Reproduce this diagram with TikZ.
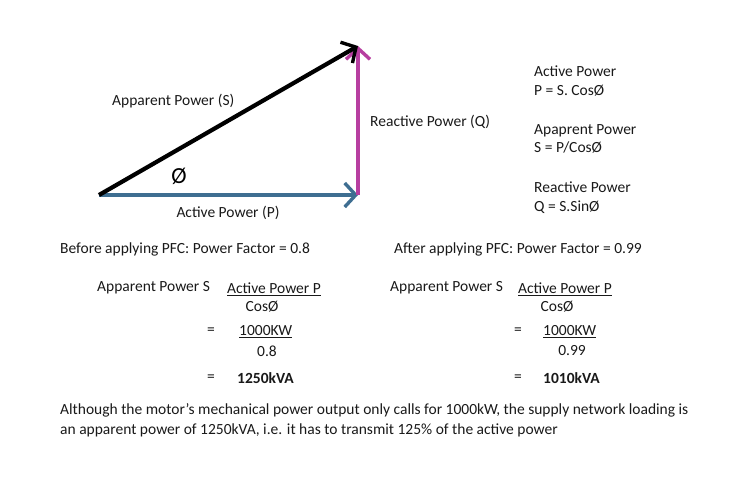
\documentclass[tikz,border=0pt]{standalone}
\usepackage{fontspec}
\setmainfont{Carlito}
\usetikzlibrary{arrows.meta, positioning}
\definecolor{activeblue}{RGB}{62,110,145}
\definecolor{reactmag}{RGB}{183,62,160}
\definecolor{txtgrey}{RGB}{25,25,25}

\begin{document}
\begin{tikzpicture}[x=1pt, y=-1pt,
        lbl/.style={anchor=west, inner sep=0pt, text=txtgrey, font=\fontsize{15.5}{18.5}\selectfont},
        mid/.style={lbl, anchor=center},
        vec/.style={line width=4.2pt, -{Straight Barb[length=11pt, width=24pt, line width=3.4pt]}},
        uline/.style={line width=1.2pt, txtgrey}
    ]
        \useasboundingbox (0,0) rectangle (746,480);
        % power triangle
        \coordinate (o) at (99,195);
        \coordinate (p) at (358,195);
        \coordinate (s) at (358,46);
        \draw[vec, activeblue] (o) -- (p);
        \draw[vec, reactmag] (p) -- (s);
        \draw[vec, black] (o) -- (s);
        \node[lbl] (sname) at (112,101) {Apparent Power (S)};
        \node[mid, font=\fontsize{23}{24}\selectfont, text=black] (phi) at (179,176) {Ø};
        \node[mid] (pname) at (228,213) {Active Power (P)};
        \node[lbl] (qname) at (370,122) {Reactive Power (Q)};
        % formulas
        \node[lbl, align=left, anchor=north west] (fp) at (534,66) {Active Power\\P = S. CosØ};
        \node[lbl, align=left, anchor=north west] (fs) at (534,124) {Apaprent Power\\S = P/CosØ};
        \node[lbl, align=left, anchor=north west] (fq) at (534,182) {Reactive Power\\Q = S.SinØ};
        % before PFC
        \node[lbl] (before) at (60,249) {Before applying PFC: Power Factor = 0.8};
        \node[lbl] (bs) at (97,288) {Apparent Power S};
        \node[lbl] (bnum) at (227,288) {Active Power P};
        \node[mid] (bden) at (262,307) {CosØ};
        \node[mid] (beq1) at (211,331) {=};
        \node[lbl] (bval) at (239,331) {1000KW};
        \node[mid] (bpf) at (267,351) {0.8};
        \node[mid] (beq2) at (211,378) {=};
        \node[lbl, font=\fontsize{15.5}{18}\selectfont\bfseries] (bres) at (237,378) {1250kVA};
        \draw[uline] ([yshift=-1.5pt]bnum.south west) -- ([yshift=-1.5pt]bnum.south east);
        \draw[uline] ([yshift=-1.5pt]bval.south west) -- ([yshift=-1.5pt]bval.south east);
        % after PFC
        \node[lbl] (after) at (394,249) {After applying PFC: Power Factor = 0.99};
        \node[lbl] (as) at (390,288) {Apparent Power S};
        \node[lbl] (anum) at (518,288) {Active Power P};
        \node[mid] (aden) at (557,307) {CosØ};
        \node[mid] (aeq1) at (518,331) {=};
        \node[lbl] (aval) at (543,331) {1000KW};
        \node[mid] (apf) at (572,351) {0.99};
        \node[mid] (aeq2) at (518,378) {=};
        \node[lbl, font=\fontsize{15.5}{18}\selectfont\bfseries] (ares) at (543,378) {1010kVA};
        \draw[uline] ([yshift=-1.5pt]anum.south west) -- ([yshift=-1.5pt]anum.south east);
        \draw[uline] ([yshift=-1.5pt]aval.south west) -- ([yshift=-1.5pt]aval.south east);
        % note
        \node[lbl, align=left, anchor=north west, font=\fontsize{15.5}{20}\selectfont] (note) at (60,403) {Although the motor’s mechanical power output only calls for 1000kW, the supply network loading is\\an apparent power of 1250kVA, i.e. it has to transmit 125\% of the active power};
    \end{tikzpicture}
\end{document}
